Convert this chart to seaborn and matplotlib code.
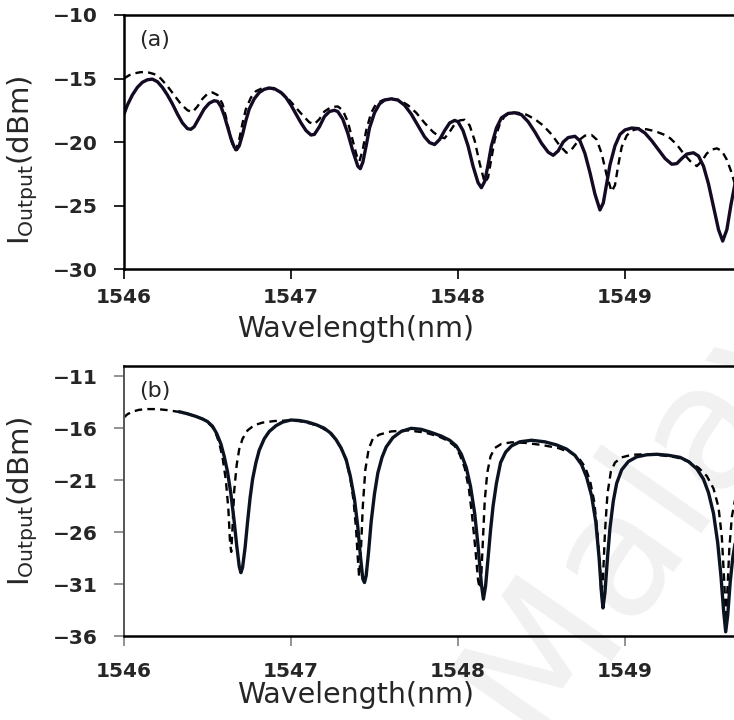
import numpy as np
import pandas as pd
import seaborn as sns
import matplotlib.pyplot as plt

# panel (a): solid and dashed traces
wl_a_solid = [1546.00, 1546.02, 1546.05, 1546.08, 1546.11, 1546.14, 1546.17, 1546.20, 1546.23, 1546.26,
              1546.29, 1546.32, 1546.35, 1546.38, 1546.40, 1546.42, 1546.45, 1546.48, 1546.51, 1546.54,
              1546.56, 1546.58, 1546.60, 1546.62, 1546.64, 1546.66, 1546.675, 1546.69, 1546.71, 1546.73,
              1546.75, 1546.78, 1546.81, 1546.84, 1546.87, 1546.90, 1546.94, 1546.97, 1547.00, 1547.03,
              1547.06, 1547.09, 1547.12, 1547.14, 1547.17, 1547.20, 1547.23, 1547.26, 1547.28, 1547.31,
              1547.34, 1547.37, 1547.40, 1547.415, 1547.43, 1547.45, 1547.47, 1547.50, 1547.53, 1547.56,
              1547.60, 1547.64, 1547.68, 1547.72, 1547.76, 1547.80, 1547.83, 1547.86, 1547.89, 1547.92,
              1547.95, 1547.98, 1548.00, 1548.03, 1548.06, 1548.09, 1548.12, 1548.14, 1548.16, 1548.18,
              1548.20, 1548.23, 1548.26, 1548.30, 1548.34, 1548.38, 1548.42, 1548.46, 1548.50, 1548.54,
              1548.57, 1548.60, 1548.63, 1548.66, 1548.70, 1548.73, 1548.76, 1548.79, 1548.82, 1548.85,
              1548.87, 1548.89, 1548.91, 1548.94, 1548.97, 1549.00, 1549.04, 1549.08, 1549.12, 1549.16,
              1549.20, 1549.24, 1549.28, 1549.31, 1549.34, 1549.37, 1549.41, 1549.44, 1549.47, 1549.50,
              1549.53, 1549.56, 1549.585, 1549.61, 1549.635, 1549.66]
p_a_solid = [-17.8, -17.1, -16.3, -15.7, -15.3, -15.1, -15.05, -15.25, -15.7, -16.3,
             -17.0, -17.8, -18.5, -18.95, -19.0, -18.8, -18.1, -17.4, -16.95, -16.75,
             -16.8, -17.2, -17.9, -18.8, -19.7, -20.4, -20.6, -20.3, -19.4, -18.3,
             -17.4, -16.6, -16.1, -15.85, -15.75, -15.8, -16.1, -16.5, -17.1, -17.8,
             -18.5, -19.1, -19.45, -19.4, -18.8, -18.0, -17.6, -17.5, -17.6, -18.2,
             -19.3, -20.7, -21.9, -22.1, -21.6, -20.3, -18.9, -17.7, -17.0, -16.7,
             -16.6, -16.7, -17.1, -17.8, -18.7, -19.6, -20.05, -20.2, -19.8, -19.1,
             -18.5, -18.3, -18.4, -19.1, -20.3, -21.9, -23.2, -23.6, -23.1, -21.8,
             -20.3, -18.9, -18.1, -17.75, -17.7, -17.85, -18.4, -19.2, -20.1, -20.8,
             -21.05, -20.7, -20.0, -19.65, -19.55, -19.9, -20.9, -22.4, -24.1, -25.35,
             -24.8, -23.3, -21.8, -20.3, -19.4, -19.05, -18.9, -18.95, -19.3, -19.9,
             -20.6, -21.3, -21.75, -21.7, -21.3, -20.95, -20.85, -21.1, -21.9, -23.3,
             -25.1, -26.9, -27.8, -26.9, -24.9, -23.2]

wl_a_dash = [1546.00, 1546.03, 1546.06, 1546.10, 1546.14, 1546.18, 1546.22, 1546.26, 1546.30, 1546.34,
             1546.38, 1546.41, 1546.44, 1546.47, 1546.50, 1546.53, 1546.56, 1546.59, 1546.61, 1546.63,
             1546.655, 1546.67, 1546.69, 1546.71, 1546.73, 1546.76, 1546.79, 1546.83, 1546.87, 1546.91,
             1546.95, 1546.99, 1547.03, 1547.07, 1547.11, 1547.14, 1547.17, 1547.20, 1547.24, 1547.28,
             1547.31, 1547.34, 1547.37, 1547.40, 1547.41, 1547.43, 1547.45, 1547.48, 1547.51, 1547.55,
             1547.60, 1547.65, 1547.70, 1547.75, 1547.80, 1547.85, 1547.89, 1547.92, 1547.95, 1547.98,
             1548.01, 1548.04, 1548.07, 1548.10, 1548.13, 1548.16, 1548.18, 1548.20, 1548.22, 1548.25,
             1548.28, 1548.32, 1548.36, 1548.41, 1548.46, 1548.51, 1548.56, 1548.61, 1548.65, 1548.68,
             1548.72, 1548.76, 1548.80, 1548.83, 1548.86, 1548.89, 1548.92, 1548.94, 1548.96, 1548.98,
             1549.01, 1549.04, 1549.08, 1549.13, 1549.18, 1549.23, 1549.27, 1549.31, 1549.35, 1549.39,
             1549.43, 1549.46, 1549.49, 1549.52, 1549.55, 1549.58, 1549.61, 1549.635, 1549.66]
p_a_dash = [-15.0, -14.75, -14.6, -14.5, -14.5, -14.65, -15.0, -15.6, -16.3, -17.0,
            -17.5, -17.65, -17.2, -16.6, -16.2, -16.1, -16.3, -17.0, -18.0, -19.2,
            -20.5, -20.65, -19.8, -18.5, -17.4, -16.5, -16.0, -15.75, -15.75, -15.9,
            -16.2, -16.7, -17.3, -17.9, -18.45, -18.6, -18.2, -17.6, -17.25, -17.2,
            -17.5, -18.4, -19.9, -21.4, -21.5, -20.6, -19.1, -17.7, -17.0, -16.7,
            -16.6, -16.7, -17.1, -17.7, -18.5, -19.2, -19.6, -19.7, -19.2, -18.6,
            -18.3, -18.25, -18.7, -19.9, -21.7, -23.2, -22.8, -21.3, -19.8, -18.6,
            -17.95, -17.7, -17.7, -17.85, -18.2, -18.7, -19.4, -20.3, -20.85, -20.6,
            -19.9, -19.5, -19.45, -19.8, -20.9, -22.6, -23.9, -23.4, -21.8, -20.4,
            -19.5, -19.1, -18.95, -19.0, -19.15, -19.4, -19.7, -20.2, -20.9, -21.5,
            -21.9, -21.5, -20.9, -20.6, -20.5, -20.7, -21.4, -22.3, -23.4]

# panel (b)
wl_b_solid = [1546.33, 1546.38, 1546.43, 1546.47, 1546.50, 1546.53, 1546.555, 1546.58, 1546.60, 1546.62,
              1546.64, 1546.66, 1546.675, 1546.69, 1546.70, 1546.71, 1546.725, 1546.74, 1546.755, 1546.77,
              1546.79, 1546.81, 1546.84, 1546.87, 1546.91, 1546.95, 1547.00, 1547.05, 1547.10, 1547.15,
              1547.20, 1547.24, 1547.27, 1547.30, 1547.33, 1547.355, 1547.38, 1547.40, 1547.415, 1547.43,
              1547.44, 1547.45, 1547.465, 1547.48, 1547.50, 1547.52, 1547.545, 1547.57, 1547.61, 1547.66,
              1547.72, 1547.78, 1547.84, 1547.90, 1547.95, 1547.99, 1548.02, 1548.05, 1548.075, 1548.10,
              1548.12, 1548.14, 1548.152, 1548.165, 1548.18, 1548.195, 1548.21, 1548.23, 1548.255, 1548.285,
              1548.32, 1548.37, 1548.44, 1548.52, 1548.59, 1548.65, 1548.70, 1548.74, 1548.77, 1548.80,
              1548.825, 1548.845, 1548.86, 1548.868, 1548.88, 1548.895, 1548.91, 1548.93, 1548.95, 1548.98,
              1549.02, 1549.07, 1549.13, 1549.19, 1549.26, 1549.33, 1549.38, 1549.43, 1549.47, 1549.50,
              1549.53, 1549.555, 1549.575, 1549.59, 1549.603, 1549.615, 1549.63, 1549.645, 1549.66]
p_b_solid = [-14.4, -14.6, -14.85, -15.1, -15.35, -15.8, -16.5, -17.5, -18.7, -20.2,
             -22.3, -25.0, -27.3, -29.3, -29.9, -29.4, -27.5, -25.0, -22.7, -20.9,
             -19.3, -18.1, -17.0, -16.3, -15.75, -15.4, -15.2, -15.25, -15.4, -15.65,
             -16.0, -16.5, -17.1, -17.9, -19.0, -20.6, -22.8, -25.5, -28.2, -30.5,
             -30.85, -30.2, -27.8, -25.0, -22.3, -20.3, -18.8, -17.8, -16.9, -16.3,
             -16.0, -16.1, -16.4, -16.75, -17.15, -17.7, -18.5, -19.8, -21.6, -24.2,
             -27.3, -31.0, -32.45, -31.2, -28.5, -25.8, -23.5, -21.3, -19.3, -18.3,
             -17.7, -17.3, -17.15, -17.3, -17.6, -18.0, -18.6, -19.5, -20.7, -22.5,
             -25.0, -28.5, -32.0, -33.3, -31.8, -28.5, -25.6, -23.0, -21.3, -20.0,
             -19.2, -18.75, -18.55, -18.5, -18.6, -18.8, -19.2, -19.9, -20.9, -22.2,
             -24.2, -27.0, -30.3, -33.5, -35.6, -34.0, -30.8, -28.5, -27.0]

wl_b_dash = [1546.00, 1546.02, 1546.05, 1546.09, 1546.14, 1546.20, 1546.26, 1546.32, 1546.38, 1546.43,
             1546.47, 1546.50, 1546.53, 1546.55, 1546.57, 1546.59, 1546.61, 1546.625, 1546.635, 1546.642,
             1546.65, 1546.66, 1546.675, 1546.69, 1546.71, 1546.74, 1546.78, 1546.83, 1546.90, 1546.98,
             1547.05, 1547.12, 1547.18, 1547.23, 1547.27, 1547.30, 1547.33, 1547.355, 1547.375, 1547.39,
             1547.40, 1547.408, 1547.418, 1547.43, 1547.445, 1547.465, 1547.49, 1547.53, 1547.60, 1547.70,
             1547.80, 1547.88, 1547.94, 1547.98, 1548.01, 1548.04, 1548.065, 1548.085, 1548.105, 1548.12,
             1548.13, 1548.14, 1548.15, 1548.16, 1548.175, 1548.195, 1548.22, 1548.26, 1548.32, 1548.40,
             1548.50, 1548.60, 1548.67, 1548.72, 1548.76, 1548.79, 1548.815, 1548.835, 1548.85, 1548.858,
             1548.868, 1548.88, 1548.895, 1548.915, 1548.94, 1548.98, 1549.04, 1549.12, 1549.22, 1549.31,
             1549.38, 1549.44, 1549.49, 1549.53, 1549.56, 1549.58, 1549.595, 1549.603, 1549.612, 1549.625,
             1549.64, 1549.66]
p_b_dash = [-14.95, -14.65, -14.4, -14.22, -14.15, -14.15, -14.25, -14.4, -14.6, -14.85,
            -15.1, -15.4, -15.9, -16.5, -17.4, -18.8, -21.0, -23.8, -27.0, -27.9,
            -25.5, -22.0, -19.5, -18.0, -17.0, -16.2, -15.7, -15.45, -15.3, -15.25,
            -15.3, -15.55, -15.9, -16.4, -17.1, -17.9, -19.1, -20.8, -23.0, -25.8,
            -28.5, -30.3, -28.0, -23.5, -20.0, -18.0, -17.0, -16.6, -16.3, -16.2,
            -16.4, -16.75, -17.2, -17.7, -18.5, -19.8, -21.8, -24.5, -27.8, -30.6,
            -31.4, -30.0, -26.5, -23.0, -20.3, -18.7, -17.9, -17.5, -17.35, -17.4,
            -17.6, -17.9, -18.3, -18.8, -19.7, -21.0, -23.0, -26.0, -29.5, -32.0,
            -30.5, -26.0, -22.3, -20.2, -19.3, -18.8, -18.55, -18.5, -18.6, -18.8,
            -19.2, -19.8, -20.6, -21.8, -23.6, -26.5, -31.0, -34.0, -32.0, -27.5,
            -24.5, -22.8]

x_ticks = [1546, 1547, 1548, 1549]
y_ticks_a = [-30, -25, -20, -15, -10]
y_ticks_b = [-36, -31, -26, -21, -16, -11]

sns.set_theme(style="white")
plt.rcParams["font.family"] = ["DejaVu Sans"]

fig = plt.figure(figsize=(7.34, 7.2), dpi=100)

# faint repository watermark behind panel (b)
fig.text(0.585, -0.06, "Malaya", rotation=55, fontsize=125, color="#f1f1f1",
         ha="left", va="bottom", zorder=-5)

ax_a = fig.add_axes([124 / 734, 1 - 269 / 720, 668 / 734, 254 / 720])
ax_b = fig.add_axes([124 / 734, 1 - 636 / 720, 668 / 734, 270 / 720])


def draw(ax, wl_s, p_s, wl_d, p_d, col):
    sns.lineplot(x=wl_d, y=p_d, ax=ax, color="black", linewidth=1.7,
                 linestyle=(0, (3.2, 2.2)), estimator=None, dash_joinstyle="round")
    sns.lineplot(x=wl_s, y=p_s, ax=ax, color=col, linewidth=2.4, estimator=None,
                 solid_joinstyle="round")


draw(ax_a, wl_a_solid, p_a_solid, wl_a_dash, p_a_dash, "#140a24")
draw(ax_b, wl_b_solid, p_b_solid, wl_b_dash, p_b_dash, "#0b1320")

ax_a.set_ylim(-30, -10)
ax_a.set_yticks(y_ticks_a)
ax_b.set_ylim(-36, -10)
ax_b.set_yticks(y_ticks_b)

for ax, tcol, lab_y, top_y, xpad, tag, tag_y in [
    (ax_a, "black", 0.43, -0.182, 7, "(a)", -12.0),
    (ax_b, "#808080", 0.50, -0.167, 12, "(b)", -12.4),
]:
    ax.set_facecolor("none")
    ax.set_xlim(1546, 1550)
    ax.set_xticks(x_ticks)
    ax.set_xticklabels([str(t) for t in x_ticks])
    ax.spines["right"].set_visible(False)
    for s in ["left", "bottom", "top"]:
        ax.spines[s].set_color("black")
        ax.spines[s].set_linewidth(1.8)
    ax.tick_params(axis="both", direction="out", length=7, width=1.2, color=tcol,
                   labelsize=14.5, pad=12, bottom=True, left=True)
    ax.tick_params(axis="x", pad=xpad)
    for lbl in ax.get_xticklabels() + ax.get_yticklabels():
        lbl.set_fontweight("bold")
    ax.set_xlabel("Wavelength(nm)", fontsize=20.5)
    ax.xaxis.set_label_coords(0.347, top_y)
    ax.set_ylabel(r"$\mathregular{I_{Output}}$(dBm)", fontsize=21)
    ax.yaxis.set_label_coords(-0.125, lab_y)
    ax.text(1546.09, tag_y, tag, fontsize=16, ha="left", va="center")

ax_b.spines["left"].set_color("#555555")
ax_b.spines["left"].set_linewidth(1.4)

fig.savefig("out.png", dpi=100)
